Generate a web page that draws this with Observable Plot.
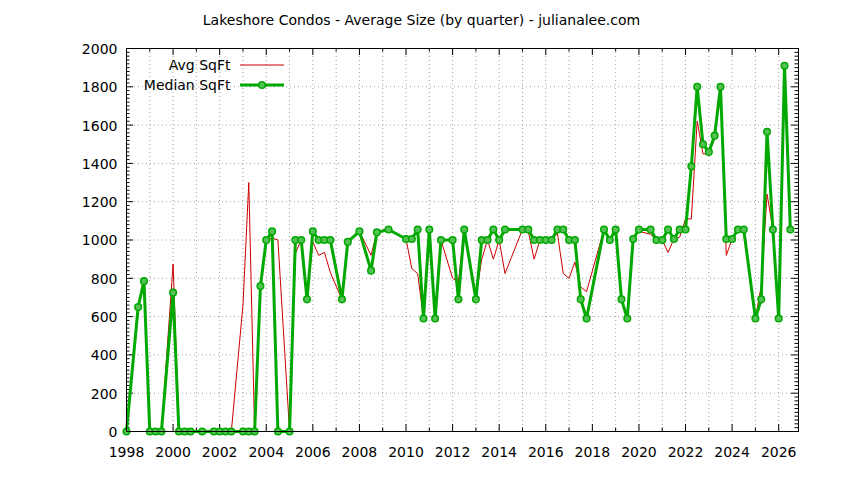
<!DOCTYPE html>
<html>
<head>
<meta charset="utf-8">
<script src="https://cdn.jsdelivr.net/npm/d3@7"></script>
<script src="https://cdn.jsdelivr.net/npm/@observablehq/plot@0.6"></script>
<style>
  html, body { margin: 0; padding: 0; background: #fff; }
  #chart svg { display: block; font-family: "DejaVu Sans", sans-serif; }
</style>
</head>
<body>
<div id="chart"></div>
<script>
// Quarter positions (decimal years) with data
const quarters = [
  1998.0, 1998.5, 1998.75, 1999.0, 1999.25, 1999.5, 2000.0, 2000.25, 2000.5, 2000.75,
  2001.25, 2001.75, 2002.0, 2002.25, 2002.5, 2003.0, 2003.25, 2003.5, 2003.75, 2004.0,
  2004.25, 2004.5, 2005.0, 2005.25, 2005.5, 2005.75, 2006.0, 2006.25, 2006.5, 2006.75,
  2007.25, 2007.5, 2008.0, 2008.5, 2008.75, 2009.25, 2010.0, 2010.25, 2010.5, 2010.75,
  2011.0, 2011.25, 2011.5, 2012.0, 2012.25, 2012.5, 2013.0, 2013.25, 2013.5, 2013.75,
  2014.0, 2014.25, 2015.0, 2015.25, 2015.5, 2015.75, 2016.0, 2016.25, 2016.5, 2016.75,
  2017.0, 2017.25, 2017.5, 2017.75, 2018.5, 2018.75, 2019.0, 2019.25, 2019.5, 2019.75,
  2020.0, 2020.5, 2020.75, 2021.0, 2021.25, 2021.5, 2021.75, 2022.0, 2022.25, 2022.5,
  2022.75, 2023.0, 2023.25, 2023.5, 2023.75, 2024.0, 2024.25, 2024.5, 2025.0, 2025.25,
  2025.5, 2025.75, 2026.0, 2026.25, 2026.5
];
const medianSqFt = [
  0, 650, 785, 0, 0, 0, 725, 0, 0, 0,
  0, 0, 0, 0, 0, 0, 0, 0, 760, 1000,
  1045, 0, 0, 1000, 1000, 690, 1045, 1000, 1000, 1000,
  690, 990, 1045, 840, 1040, 1055, 1005, 1005, 1055, 590,
  1055, 590, 1000, 1000, 690, 1055, 690, 1000, 1000, 1055,
  1000, 1055, 1055, 1055, 1000, 1000, 1000, 1000, 1055, 1055,
  1000, 1000, 690, 590, 1055, 1000, 1055, 690, 590, 1005,
  1055, 1055, 1000, 1000, 1055, 1005, 1055, 1055, 1385, 1800,
  1500, 1460, 1545, 1800, 1005, 1005, 1055, 1055, 590, 690,
  1565, 1055, 590, 1910, 1055
];
const avgSqFt = [
  0, 650, 785, 0, 0, 0, 875, 0, 0, 0,
  0, 0, 0, 0, 0, 660, 1300, 0, 760, 1000,
  1010, 1000, 0, 930, 1000, 690, 990, 920, 935, 830,
  690, 990, 1045, 920, 1040, 1055, 1005, 850, 825, 590,
  1055, 590, 1000, 800, 780, 1055, 700, 900, 1000, 900,
  1000, 825, 1055, 1045, 900, 1000, 1000, 1000, 1035, 825,
  800, 885, 755, 730, 1055, 1000, 1055, 690, 590, 1005,
  1045, 1030, 1000, 1000, 935, 1005, 1015, 1110, 1110, 1620,
  1450, 1450, 1530, 1815, 920, 1005, 1055, 1040, 590, 760,
  1240, 1055, 590, 1910, 1055
];
const xTickYears = [1998, 2000, 2002, 2004, 2006, 2008, 2010, 2012, 2014, 2016, 2018, 2020, 2022, 2024, 2026];
const yTickValues = [0, 200, 400, 600, 800, 1000, 1200, 1400, 1600, 1800, 2000];
const titleText = "Lakeshore Condos - Average Size (by quarter) - julianalee.com";
const seriesNames = ["Avg SqFt", "Median SqFt"];

const rows = quarters.map((q, i) => ({q, median: medianSqFt[i], avg: avgSqFt[i]}));

const W = 844, H = 480;
const mL = 126, mR = 46, mT = 48, mB = 49;
const pw = W - mL - mR, ph = H - mT - mB;
const xDomain = [1998, 2026.85];
const allYears = d3.range(1998, 2027);
const minorYears = allYears.filter(y => !xTickYears.includes(y));
const yMinor = d3.range(0, 2001, 20).filter(v => !yTickValues.includes(v));

const red = "#cc0000", green = "#00a800";
const gridStyle = {stroke: "#a0a0a0", strokeOpacity: 1, strokeWidth: 1, strokeDasharray: "1,3"};
const FS = 14;

const plot = Plot.plot({
  width: W, height: H,
  marginLeft: mL, marginRight: mR, marginTop: mT, marginBottom: mB,
  style: {fontSize: FS + "px", fontFamily: "\"DejaVu Sans\", sans-serif", color: "#000"},
  x: {type: "linear", domain: xDomain, label: null},
  y: {domain: [0, 2000], label: null},
  marks: [
    Plot.gridX(allYears, gridStyle),
    Plot.gridY(yTickValues, gridStyle),
    // inward ticks
    Plot.tickX(xTickYears, {x: d => d, stroke: "#000", insetTop: ph - 7}),
    Plot.tickX(xTickYears, {x: d => d, stroke: "#000", insetBottom: ph - 7}),
    Plot.tickX(minorYears, {x: d => d, stroke: "#000", insetTop: ph - 3.5}),
    Plot.tickX(minorYears, {x: d => d, stroke: "#000", insetBottom: ph - 3.5}),
    Plot.tickY(yTickValues, {y: d => d, stroke: "#000", insetRight: pw - 7}),
    Plot.tickY(yTickValues, {y: d => d, stroke: "#000", insetLeft: pw - 7}),
    Plot.tickY(yMinor, {y: d => d, stroke: "#000", insetRight: pw - 3.5}),
    Plot.tickY(yMinor, {y: d => d, stroke: "#000", insetLeft: pw - 3.5}),
    Plot.axisX({ticks: xTickYears, tickFormat: d => String(d), tickSize: 0, tickPadding: 16, fontSize: FS, label: null}),
    Plot.axisY({ticks: yTickValues, tickFormat: d => String(d), tickSize: 0, tickPadding: 9, fontSize: FS, dy: 1, label: null}),
    // data
    Plot.line(rows, {x: "q", y: "avg", stroke: red, strokeWidth: 1}),
    Plot.line(rows, {x: "q", y: "median", stroke: green, strokeWidth: 3}),
    Plot.dot(rows, {x: "q", y: "median", r: 3.3, stroke: green, strokeWidth: 1.5, fill: "#55c055"}),
    Plot.frame({stroke: "#000", strokeWidth: 1}),
    // title
    Plot.text([titleText], {text: d => d, frameAnchor: "top", dx: -41, dy: -28, fontSize: FS, lineAnchor: "middle"}),
    // legend text
    Plot.text([seriesNames[0]], {text: d => d, frameAnchor: "top-left", dx: 104, dy: 17, textAnchor: "end", lineAnchor: "middle", fontSize: FS}),
    Plot.text([seriesNames[1]], {text: d => d, frameAnchor: "top-left", dx: 104, dy: 37, textAnchor: "end", lineAnchor: "middle", fontSize: FS})
  ]
});

// legend samples
const svg = d3.select(plot);
const lx0 = mL + 114, lx1 = mL + 158;
svg.append("line").attr("x1", lx0).attr("x2", lx1).attr("y1", mT + 17).attr("y2", mT + 17)
  .attr("stroke", red).attr("stroke-width", 1);
svg.append("line").attr("x1", lx0).attr("x2", lx1).attr("y1", mT + 37).attr("y2", mT + 37)
  .attr("stroke", green).attr("stroke-width", 3);
svg.append("circle").attr("cx", (lx0 + lx1) / 2).attr("cy", mT + 37).attr("r", 3.3)
  .attr("stroke", green).attr("stroke-width", 1.5).attr("fill", "#55c055");

document.getElementById("chart").appendChild(plot);
</script>
</body>
</html>
